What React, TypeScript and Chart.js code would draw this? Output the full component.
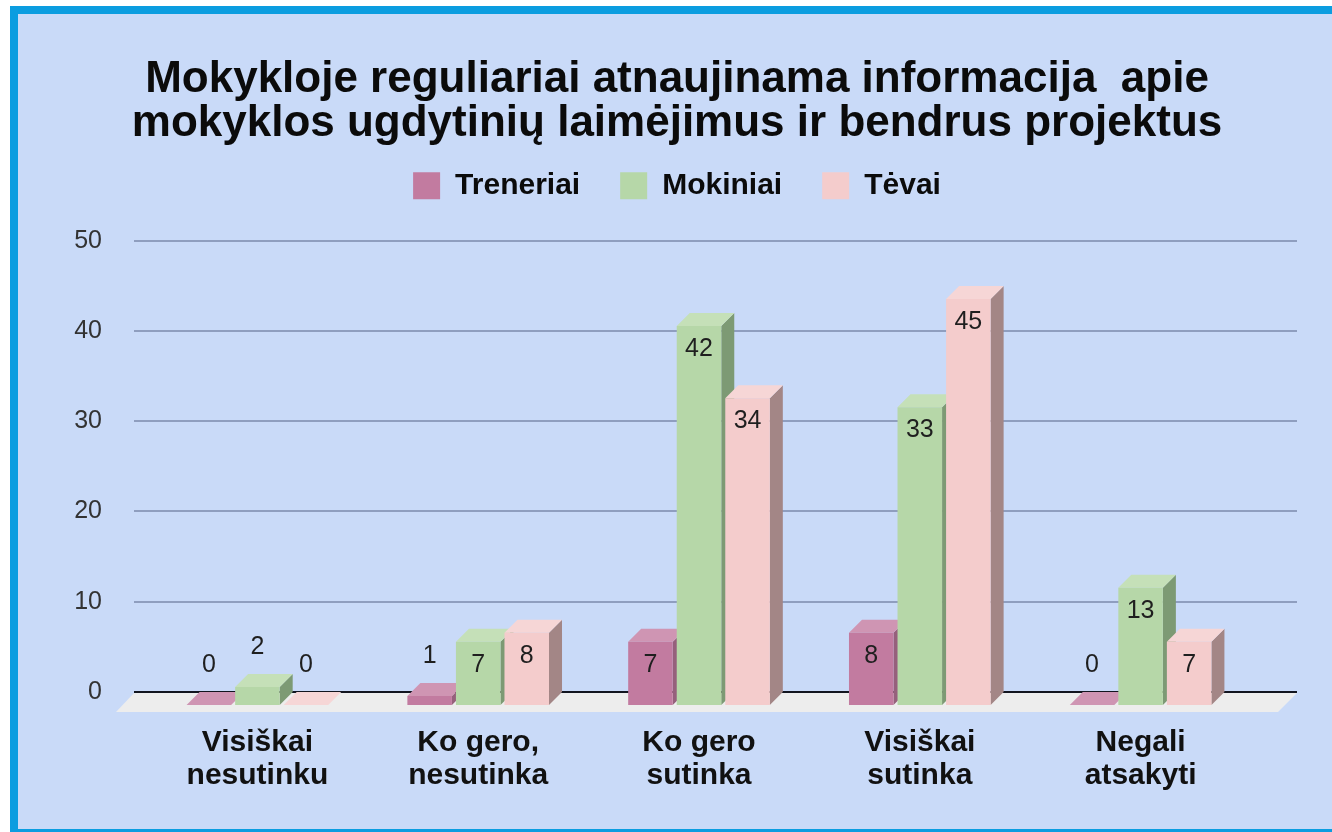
import React, { useEffect, useRef } from "react";
import { Chart, registerables } from "chart.js";

Chart.register(...registerables);

const titleLines = [
  "Mokykloje reguliariai atnaujinama informacija  apie",
  "mokyklos ugdytinių laimėjimus ir bendrus projektus",
];
const categories = [
  ["Visiškai", "nesutinku"],
  ["Ko gero,", "nesutinka"],
  ["Ko gero", "sutinka"],
  ["Visiškai", "sutinka"],
  ["Negali", "atsakyti"],
];
const treneriai = [0, 1, 7, 8, 0];
const mokiniai = [2, 7, 42, 33, 13];
const tevai = [0, 8, 34, 45, 7];
const yTicks = [0, 10, 20, 30, 40, 50];

const palette = [
  { front: "#c27ba0", top: "#cf95b3", side: "#96607c" },
  { front: "#b6d7a8", top: "#c5e0b8", side: "#7d9a74" },
  { front: "#f4cccc", top: "#f6d6d6", side: "#a38686" },
];

const DEPTH = 13;
const FLOOR_FRONT = 7;
const GRID_RIGHT = 1297;
const Y_UNDER = 13 / 9.02;
const LEGEND_EXTRA = 30;

const depthPlugin = {
  id: "depthBars",
  beforeInit(chart: any) {
    const fit = chart.legend.fit;
    chart.legend.fit = function () {
      fit.call(this);
      this.height += LEGEND_EXTRA;
    };
  },
  beforeDatasetsDraw(chart: any) {
    const { ctx, chartArea, scales } = chart;
    const zero = scales.y.getPixelForValue(0);
    const gridLeft = chartArea.left - DEPTH;

    // extend the grid lines to the right of the plot
    ctx.save();
    yTicks.forEach((v) => {
      const py = Math.round(scales.y.getPixelForValue(v) - 1) + 1;
      ctx.beginPath();
      ctx.moveTo(chartArea.right, py);
      ctx.lineTo(GRID_RIGHT, py);
      ctx.lineWidth = 2;
      ctx.strokeStyle = v === 0 ? "#12151f" : "#8f9ebf";
      ctx.stroke();
    });

    // floor
    const floorBottom = chartArea.bottom + FLOOR_FRONT;
    ctx.beginPath();
    ctx.moveTo(gridLeft, zero + 1);
    ctx.lineTo(GRID_RIGHT, zero + 1);
    ctx.lineTo(GRID_RIGHT - 19, floorBottom);
    ctx.lineTo(gridLeft - 18, floorBottom);
    ctx.closePath();
    ctx.fillStyle = "#ededed";
    ctx.fill();

    // bars, left to right, each one with its top and side
    chart.data.datasets.forEach((_: any, di: number) => {
      const meta = chart.getDatasetMeta(di);
      const col = palette[di];
      meta.data.forEach((bar: any) => {
        const p = bar.getProps(["x", "y", "base", "width"], true);
        const l = p.x - p.width / 2;
        const r = p.x + p.width / 2;
        ctx.beginPath();
        ctx.moveTo(r, p.y);
        ctx.lineTo(r + DEPTH, p.y - DEPTH);
        ctx.lineTo(r + DEPTH, p.base - DEPTH);
        ctx.lineTo(r, p.base);
        ctx.closePath();
        ctx.fillStyle = col.side;
        ctx.fill();
        ctx.beginPath();
        ctx.moveTo(l, p.y);
        ctx.lineTo(l + DEPTH, p.y - DEPTH);
        ctx.lineTo(r + DEPTH, p.y - DEPTH);
        ctx.lineTo(r, p.y);
        ctx.closePath();
        ctx.fillStyle = col.top;
        ctx.fill();
        bar.draw(ctx);
      });
    });
    ctx.restore();
    return false;
  },
  afterDraw(chart: any) {
    const { ctx } = chart;
    ctx.save();
    ctx.font = "25px 'Liberation Sans'";
    ctx.fillStyle = "#1f1f1f";
    ctx.textAlign = "center";
    ctx.textBaseline = "middle";
    chart.data.datasets.forEach((ds: any, di: number) => {
      chart.getDatasetMeta(di).data.forEach((bar: any, i: number) => {
        const v = ds.data[i];
        const p = bar.getProps(["x", "y"], true);
        ctx.fillText(String(v), p.x, v <= 2 ? p.y - 40 : p.y + 23);
      });
    });
    ctx.restore();
  },
};

export default function App() {
  const ref = useRef<HTMLCanvasElement | null>(null);
  useEffect(() => {
    const chart = new Chart(ref.current as HTMLCanvasElement, {
      type: "bar",
      data: {
        labels: categories as any,
        datasets: [
          { label: "Treneriai", data: treneriai, backgroundColor: palette[0].front, yAxisID: "yBars" },
          { label: "Mokiniai", data: mokiniai, backgroundColor: palette[1].front, yAxisID: "yBars" },
          { label: "Tėvai", data: tevai, backgroundColor: palette[2].front, yAxisID: "yBars" },
        ],
      },
      options: {
        responsive: false,
        animation: false,
        events: [],
        categoryPercentage: 0.6596,
        barPercentage: 0.9175,
        layout: { padding: { left: 70, right: 48, top: 57, bottom: 0 } },
        plugins: {
          title: {
            display: true,
            text: titleLines,
            color: "#0b0b0b",
            font: { family: "'Liberation Sans'", size: 44, weight: "bold", lineHeight: 1.02 },
            padding: { top: 0, bottom: -16 },
          },
          legend: {
            position: "top",
            labels: {
              boxWidth: 27,
              boxHeight: 27,
              padding: 40,
              color: "#0b0b0b",
              font: { family: "'Liberation Sans'", size: 30, weight: "bold" },
            },
          },
          tooltip: { enabled: false },
        },
        scales: {
          x: {
            grid: { display: false },
            border: { display: false },
            ticks: {
              color: "#111111",
              padding: 13,
              maxRotation: 0,
              autoSkip: false,
              font: { family: "'Liberation Sans'", size: 30, weight: "bold", lineHeight: 1.1 },
            },
            afterFit: (s: any) => { s.height = 127; },
          },
          y: {
            position: "left",
            min: -Y_UNDER,
            max: 50,
            afterBuildTicks: (s: any) => { s.ticks = yTicks.map((value) => ({ value })); },
            grid: {
              color: (c: any) => (c.tick && c.tick.value === 0 ? "#12151f" : "#8f9ebf"),
              lineWidth: 2,
              tickLength: DEPTH,
            },
            border: { display: false },
            ticks: {
              color: "#333333",
              padding: 32,
              font: { family: "'Liberation Sans'", size: 25 },
            },
            afterFit: (s: any) => { s.width = 77; },
          },
          yBars: {
            position: "right",
            min: 0,
            max: 50 + Y_UNDER,
            grid: { display: false },
            border: { display: false },
            ticks: { display: false },
            afterFit: (s: any) => { s.width = 33; },
          },
        },
      } as any,
      plugins: [depthPlugin],
    });
    return () => chart.destroy();
  }, []);

  return (
    <div style={{ position: "fixed", left: 0, top: 0, width: 1332, height: 832, overflow: "hidden", background: "#ffffff" }}>
      <div
        style={{
          position: "absolute",
          left: 10,
          top: 6,
          width: 1340,
          height: 815,
          border: "8px solid #0b9de0",
          background: "#c9daf8",
        }}
      />
      <canvas ref={ref} width={1332} height={832} style={{ position: "absolute", left: 0, top: 0, display: "block" }} />
    </div>
  );
}
